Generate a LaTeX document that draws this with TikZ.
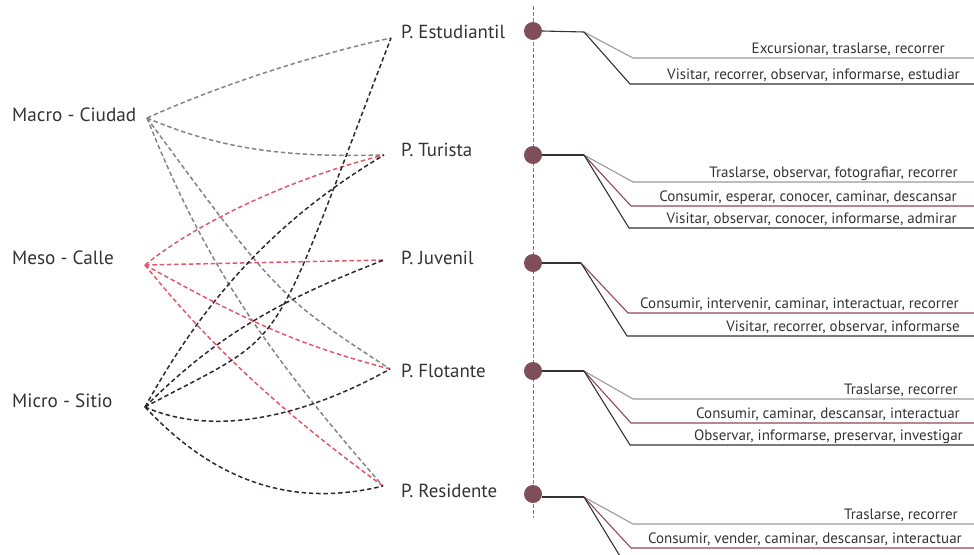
\documentclass[tikz,border=0pt]{standalone}
\usepackage{fontspec}
\setmainfont{PT Sans}
\usepackage{xcolor}
\usetikzlibrary{positioning}

\definecolor{grayLink}{HTML}{858585}
\definecolor{redLink}{HTML}{E2576A}
\definecolor{darkLink}{HTML}{33282C}
\definecolor{dotFill}{HTML}{7E4F58}
\definecolor{legGray}{HTML}{9A9A9A}
\definecolor{legRed}{HTML}{8E4A52}
\definecolor{legDark}{HTML}{333333}
\definecolor{txt}{HTML}{333333}

\begin{document}
\begin{tikzpicture}[x=1pt, y=-1pt,
  lvl/.style={anchor=base west, inner sep=0pt, font=\fontsize{19.2}{21}\selectfont, text=txt},
  prof/.style={anchor=base west, inner sep=0pt, font=\fontsize{18.9}{21}\selectfont, text=txt},
  act/.style={anchor=base east, inner sep=0pt, font=\fontsize{15}{17}\selectfont, text=txt},
  link/.style={#1, line width=1.5pt, dash pattern=on 4.5pt off 2.8pt},
  leg/.style={#1, line width=1.1pt},
  dot/.style={circle, fill=dotFill, minimum size=18pt, inner sep=0pt}
]
  \useasboundingbox (0,0) rectangle (974,554);
  \clip (0,0) rectangle (974,554);

  % Scales
  \node[lvl] (macro) at (12,121) {Macro - Ciudad};
  \node[lvl] (meso)  at (12,264) {Meso - Calle};
  \node[lvl] (micro) at (12,407) {Micro - Sitio};
  \coordinate (macroPt) at (147,118);
  \coordinate (mesoPt)  at (145,265);
  \coordinate (microPt) at (145,407);

  % Profiles
  \node[prof] (pEst) at (401,38)  {P. Estudiantil};
  \node[prof] (pTur) at (401,156) {P. Turista};
  \node[prof] (pJuv) at (401,264) {P. Juvenil};
  \node[prof] (pFlo) at (401,377) {P. Flotante};
  \node[prof] (pRes) at (401,497) {P. Residente};
  \coordinate (pEstPt) at (391,38);
  \coordinate (pTurPt) at (384,155);
  \coordinate (pJuvPt) at (384,260);
  \coordinate (pFloPt) at (390,369);
  \coordinate (pResPt) at (383,486);

  % Macro links
  \draw[link=grayLink] (macroPt) .. controls +(73,-33) and +(-78,17) .. (pEstPt);
  \draw[link=grayLink] (macroPt) .. controls +(80,34) and +(-90,2) .. (pTurPt);
  \draw[link=grayLink] (macroPt) .. controls +(131,178) and +(-112,-73) .. (pFloPt);
  \draw[link=grayLink] (macroPt) .. controls +(55,138) and +(-122,-139) .. (pResPt);

  % Meso links
  \draw[link=redLink] (mesoPt) .. controls +(54,-44) and +(-89,22) .. (pTurPt);
  \draw[link=redLink] (mesoPt) -- (pJuvPt);
  \draw[link=redLink] (mesoPt) .. controls +(105,58) and +(-91,-24) .. (pFloPt);
  \draw[link=redLink] (mesoPt) .. controls +(67,83) and +(-99,-72) .. (pResPt);

  % Micro links
  \draw[link=darkLink] (microPt) .. controls +(150,-80) and +(-127,330) .. (pEstPt);
  \draw[link=darkLink] (microPt) .. controls +(64,-116) and +(-102,61) .. (pTurPt);
  \draw[link=darkLink] (microPt) .. controls +(68,-68) and +(-110,42) .. (pJuvPt);
  \draw[link=darkLink] (microPt) .. controls +(75,33) and +(-75,42) .. (pFloPt);
  \draw[link=darkLink] (microPt) .. controls +(70,75) and +(-90,22) .. (pResPt);

  % Axis and dots
  \coordinate (axisTop) at (533,6);
  \coordinate (axisBot) at (533,518);
  \coordinate (edge) at (974,0);
  \draw[gray, line width=0.9pt, dash pattern=on 3.5pt off 2.5pt] (axisTop) -- (axisBot);
  \node[dot] (dotEst) at (533,31)  {};
  \node[dot] (dotTur) at (533,155) {};
  \node[dot] (dotJuv) at (533,263) {};
  \node[dot] (dotFlo) at (533,371) {};
  \node[dot] (dotRes) at (533,494) {};
  \coordinate (knotEst) at (584,32);
  \coordinate (knotTur) at (584,155);
  \coordinate (knotJuv) at (581,263);
  \coordinate (knotFlo) at (584,371);
  \coordinate (knotRes) at (584,497);
  \draw[leg=legDark] (dotEst.east) -- (knotEst);
  \draw[leg=legDark] (dotTur.east) -- (knotTur);
  \draw[leg=legDark] (dotJuv.east) -- (knotJuv);
  \draw[leg=legDark] (dotFlo.east) -- (knotFlo);
  \draw[leg=legDark] (dotRes.east |- knotRes) -- (knotRes);

  % Estudiantil
  \coordinate (estA) at (633,58);
  \coordinate (estB) at (630,84);
  \draw[leg=legGray] (knotEst) -- (estA) -- (estA -| edge);
  \draw[leg=legDark] (knotEst) -- (estB) -- (estB -| edge);
  \node[act] (estAtxt) at (945,53) {Excursionar, traslarse, recorrer};
  \node[act] (estBtxt) at (960,79) {Visitar, recorrer, observar, informarse, estudiar};

  % Turista
  \coordinate (turA) at (633,182);
  \coordinate (turB) at (631,206);
  \coordinate (turC) at (629,228);
  \draw[leg=legGray] (knotTur) -- (turA) -- (turA -| edge);
  \draw[leg=legRed]  (knotTur) -- (turB) -- (turB -| edge);
  \draw[leg=legDark] (knotTur) -- (turC) -- (turC -| edge);
  \node[act] (turAtxt) at (958,177) {Traslarse, observar, fotografiar, recorrer};
  \node[act] (turBtxt) at (957,201) {Consumir, esperar, conocer, caminar, descansar};
  \node[act] (turCtxt) at (957,223) {Visitar, observar, conocer, informarse, admirar};

  % Juvenil
  \coordinate (juvA) at (628,313);
  \coordinate (juvB) at (627,336);
  \draw[leg=legRed]  (knotJuv) -- (juvA) -- (juvA -| edge);
  \draw[leg=legDark] (knotJuv) -- (juvB) -- (juvB -| edge);
  \node[act] (juvAtxt) at (959,308) {Consumir, intervenir, caminar, interactuar, recorrer};
  \node[act] (juvBtxt) at (960,331) {Visitar, recorrer, observar, informarse};

  % Flotante
  \coordinate (floA) at (633,399);
  \coordinate (floB) at (631,423);
  \coordinate (floC) at (630,445);
  \draw[leg=legGray] (knotFlo) -- (floA) -- (floA -| edge);
  \draw[leg=legRed]  (knotFlo) -- (floB) -- (floB -| edge);
  \draw[leg=legDark] (knotFlo) -- (floC) -- (floC -| edge);
  \node[act] (floAtxt) at (958,394) {Traslarse, recorrer};
  \node[act] (floBtxt) at (960,418) {Consumir, caminar, descansar, interactuar};
  \node[act] (floCtxt) at (963,440) {Observar, informarse, preservar, investigar};

  % Residente
  \coordinate (resA) at (633,524);
  \coordinate (resB) at (631,548);
  \coordinate (resC) at (629,571);
  \draw[leg=legGray] (knotRes) -- (resA) -- (resA -| edge);
  \draw[leg=legRed]  (knotRes) -- (resB) -- (resB -| edge);
  \draw[leg=legDark] (knotRes) -- (resC) -- (resC -| edge);
  \node[act] (resAtxt) at (958,519) {Traslarse, recorrer};
  \node[act] (resBtxt) at (962,543) {Consumir, vender, caminar, descansar, interactuar};
\end{tikzpicture}
\end{document}
